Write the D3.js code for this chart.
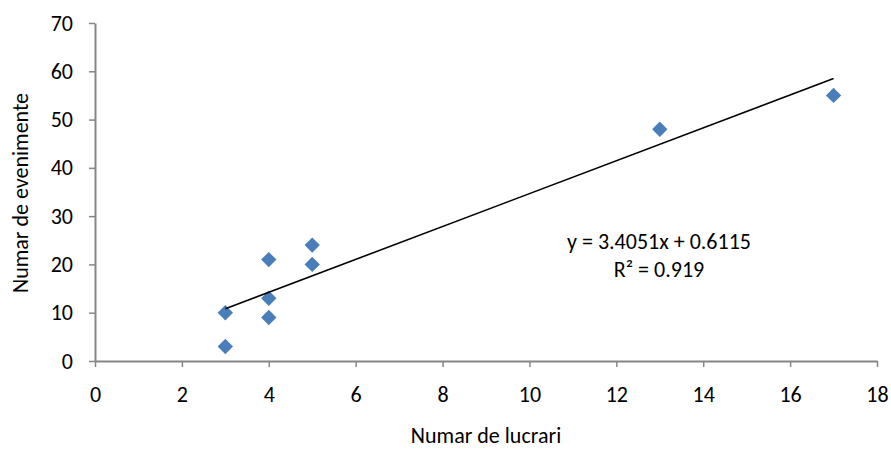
<!DOCTYPE html>
<html><head><meta charset="utf-8">
<script src="https://cdn.jsdelivr.net/npm/d3@7"></script>
<style>body{margin:0;background:#fff}text{font-family:Carlito,Calibri,Lato,"Open Sans",sans-serif;fill:#000}</style>
</head><body><svg id="c" width="891" height="449"></svg>
<script>
const xVals = [3, 3, 4, 4, 4, 5, 5, 13, 17];
const yVals = [10, 3, 21, 13, 9, 24, 20, 48, 55];
const xTicks = [0, 2, 4, 6, 8, 10, 12, 14, 16, 18];
const yTicks = [0, 10, 20, 30, 40, 50, 60, 70];
const slope = 3.4051, intercept = 0.6115;
const eqLabel = "y = 3.4051x + 0.6115";
const r2Label = "R² = 0.919";
const xTitle = "Numar de lucrari", yTitle = "Numar de evenimente";

const FS = 22;
const svg = d3.select("#c");
const x = d3.scaleLinear().domain([0, 18]).range([95, 877]);
const y = d3.scaleLinear().domain([0, 70]).range([361, 23]);
const axisColor = "#868686";

const gx = svg.append("g").attr("transform", `translate(0,${y(0)})`)
  .call(d3.axisBottom(x).tickValues(xTicks).tickSize(6).tickPadding(19).tickSizeOuter(0));
const gy = svg.append("g").attr("transform", `translate(${x(0)},0)`)
  .call(d3.axisLeft(y).tickValues(yTicks).tickSize(6).tickPadding(16).tickSizeOuter(0));
[gx, gy].forEach(g => {
  g.attr("font-size", FS).attr("font-family", null);
  g.select(".domain").attr("stroke", axisColor).attr("stroke-width", 2);
  g.selectAll(".tick line").attr("stroke", axisColor).attr("stroke-width", 1.5);
  g.selectAll(".tick text").attr("fill", "#000");
});

const pts = xVals.map((v, i) => [v, yVals[i]]);
const sym = d3.symbol().type(d3.symbolDiamond2).size(150);
svg.append("g").selectAll("path").data(pts).join("path")
  .attr("d", sym).attr("transform", d => `translate(${x(d[0])},${y(d[1])})`)
  .attr("fill", "#4a7ebb");

const xmin = d3.min(xVals), xmax = d3.max(xVals);
svg.append("line")
  .attr("x1", x(xmin)).attr("y1", y(slope * xmin + intercept))
  .attr("x2", x(xmax)).attr("y2", y(slope * xmax + intercept))
  .attr("stroke", "#000").attr("stroke-width", 1.6);

svg.append("text").attr("x", 659).attr("y", 249).attr("text-anchor", "middle").attr("font-size", FS).text(eqLabel);
svg.append("text").attr("x", 659).attr("y", 277).attr("text-anchor", "middle").attr("font-size", FS).text(r2Label);

svg.append("text").attr("x", 486).attr("y", 443).attr("text-anchor", "middle").attr("font-size", FS).text(xTitle);
svg.append("text").attr("transform", "translate(28,193) rotate(-90)").attr("text-anchor", "middle").attr("font-size", FS).text(yTitle);
</script></body></html>
